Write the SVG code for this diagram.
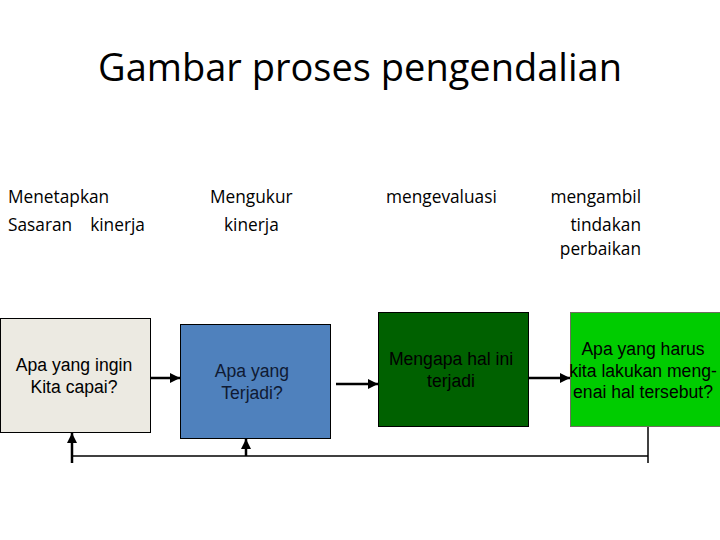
<svg xmlns="http://www.w3.org/2000/svg" width="720" height="540" viewBox="0 0 720 540">
<defs>
<style>
.title{font-family:"Open Sans","Noto Sans",sans-serif;font-size:38px;fill:#000;text-anchor:middle}
.lbl{font-family:"Open Sans","Noto Sans",sans-serif;font-size:17.3px;fill:#000}
.bt{font-family:"Liberation Sans",Arial,sans-serif;font-size:17.6px;text-anchor:middle}
.ln{stroke:#000;stroke-width:1.5;fill:none}
.ar{stroke:#000;stroke-width:2.5;fill:none}
</style>
<marker id="ah" viewBox="0 0 10 10" refX="10" refY="5" markerWidth="4" markerHeight="4" markerUnits="strokeWidth" orient="auto">
<path d="M0,0 L10,5 L0,10 z" fill="#000"/>
</marker>
</defs>
<rect width="720" height="540" fill="#fff"/>
<text class="title" x="360" y="81">Gambar proses pengendalian</text>
<g id="labels">
<text class="lbl" x="8" y="203">Menetapkan</text>
<text class="lbl" x="8" y="231" xml:space="preserve">Sasaran    kinerja</text>
<text class="lbl" x="210" y="203">Mengukur</text>
<text class="lbl" x="224" y="231">kinerja</text>
<text class="lbl" x="386" y="203">mengevaluasi</text>
<text class="lbl" x="641" y="203" text-anchor="end">mengambil</text>
<text class="lbl" x="641" y="231" text-anchor="end">tindakan</text>
<text class="lbl" x="641" y="255" text-anchor="end">perbaikan</text>
</g>
<g id="node1">
<rect x="0.5" y="318.5" width="150" height="114" fill="#ECEAE2" stroke="#000" stroke-width="1"/>
<text class="bt" x="74" y="371" fill="#000">Apa yang ingin</text>
<text class="bt" x="74" y="393" fill="#000">Kita capai?</text>
</g>
<g id="node2">
<rect x="180.5" y="324.5" width="150" height="114" fill="#4F81BD" stroke="#000" stroke-width="1"/>
<text class="bt" x="252" y="377" fill="#0F1A33">Apa yang</text>
<text class="bt" x="252" y="399" fill="#0F1A33">Terjadi?</text>
</g>
<g id="node3">
<rect x="378.5" y="312.5" width="150" height="114" fill="#006100" stroke="#000" stroke-width="1"/>
<text class="bt" x="451" y="365" fill="#000">Mengapa hal ini</text>
<text class="bt" x="451" y="387" fill="#000">terjadi</text>
</g>
<g id="node4">
<rect x="570.5" y="312.5" width="152" height="114" fill="#00CC00" stroke="#6E6E5E" stroke-width="1"/>
<text class="bt" x="643" y="355" fill="#000">Apa yang harus</text>
<text class="bt" x="643" y="377" fill="#000">kita lakukan meng-</text>
<text class="bt" x="643" y="398" fill="#000">enai hal tersebut?</text>
</g>
<g id="connectors">
<line class="ar" x1="151" y1="378" x2="180" y2="378" marker-end="url(#ah)"/>
<line class="ar" x1="336" y1="384" x2="378" y2="384" marker-end="url(#ah)"/>
<line class="ar" x1="529" y1="378" x2="570" y2="378" marker-end="url(#ah)"/>
<polyline class="ln" points="648,427 648,463"/>
<polyline class="ln" points="648,456 72,456"/>
<line class="ar" x1="72" y1="463" x2="72" y2="433" marker-end="url(#ah)"/>
<line class="ar" x1="246" y1="456" x2="246" y2="439" marker-end="url(#ah)"/>
</g>
</svg>
